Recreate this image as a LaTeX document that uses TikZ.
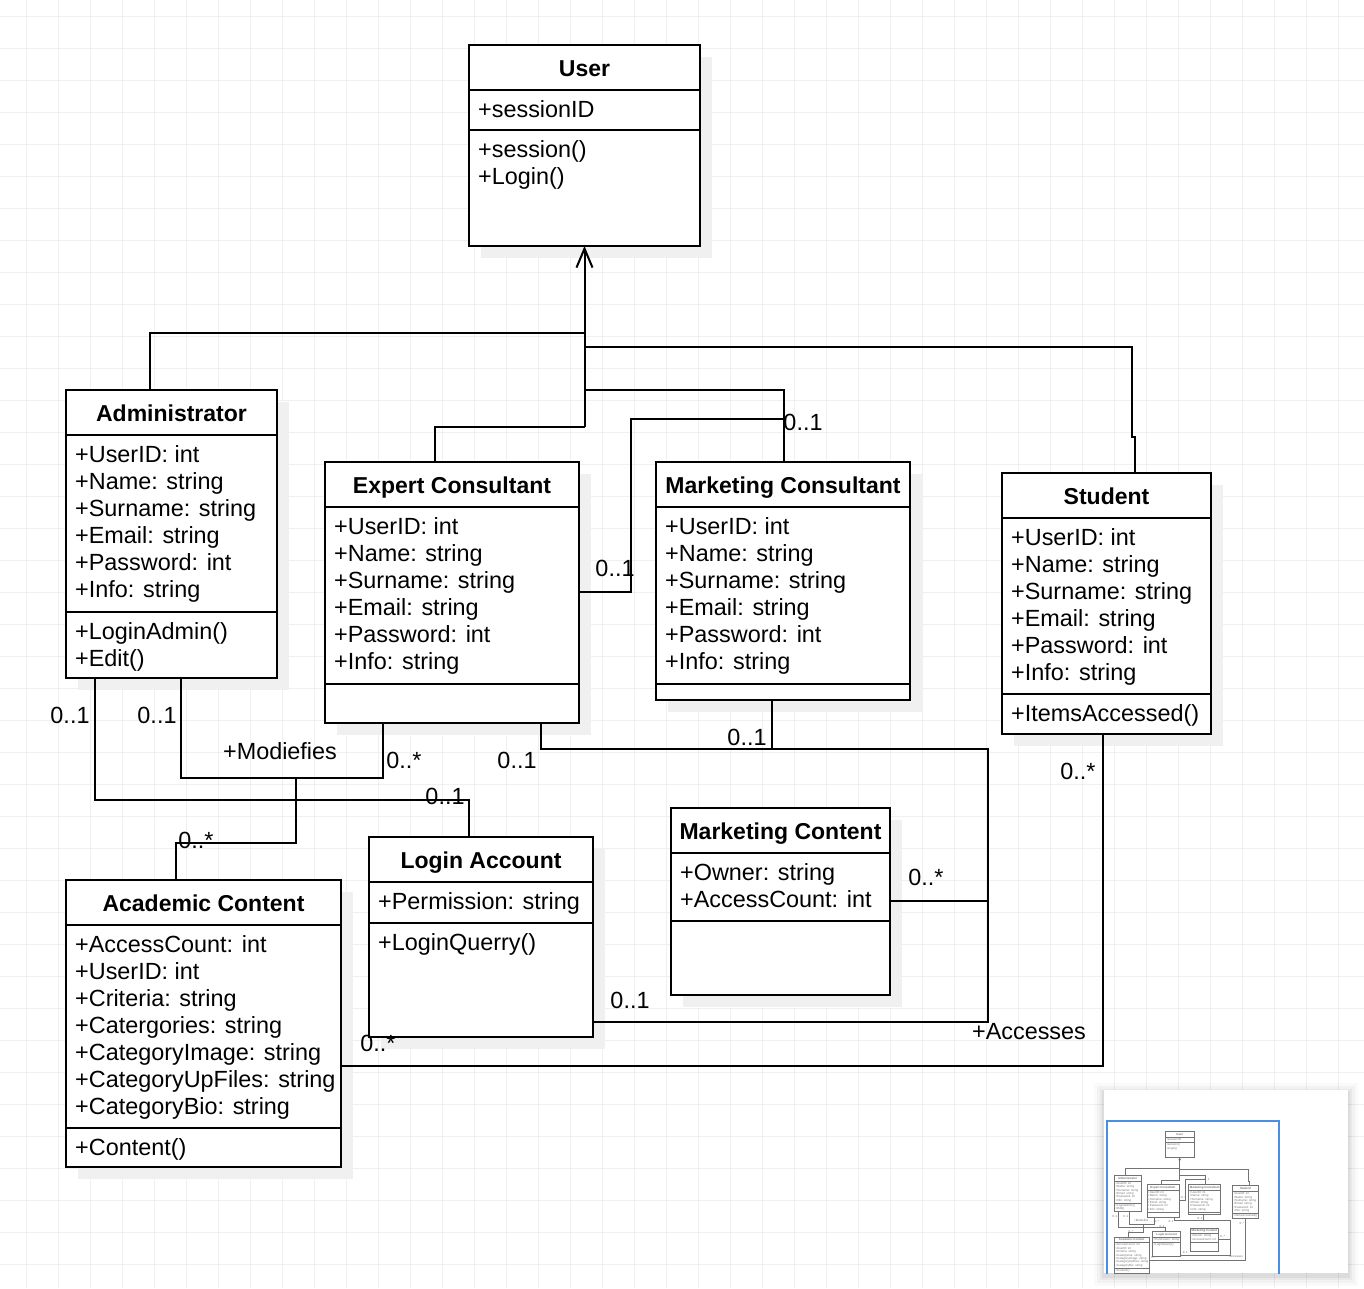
\documentclass[tikz,border=0pt]{standalone}
\usepackage{fontspec}
\setmainfont{Liberation Sans}
\usetikzlibrary{arrows.meta,calc}

\colorlet{fg}{black}
\colorlet{gridline}{black!6}
\colorlet{boxshadow}{black!6}
\definecolor{viewblue}{RGB}{74,144,226}
\def\lw{2pt}
\def\tipl{19pt}\def\tipw{16pt}
\newif\ifshadows \shadowstrue

\tikzset{
  classframe/.style={draw=fg, fill=white, line width=\lw, inner sep=0pt, outer sep=0pt, anchor=north west},
  sepline/.style={draw=fg, line width=\lw},
  conn/.style={draw=fg, line width=\lw},
  ctitle/.style={font=\fontsize{23}{27}\selectfont\bfseries, text=fg, anchor=base, inner sep=0pt},
  cline/.style={font=\fontsize{23.4}{27}\selectfont, text=fg, anchor=base west, inner sep=0pt},
  mult/.style={font=\fontsize{23.4}{27}\selectfont, text=fg, inner sep=0pt},
  gen/.style={-{Straight Barb[length=\tipl, width=\tipw]}},
}

% class box: name, left, top, width, height, title band, attribute band, title
\newcommand\umlclass[8]{%
  \edef\clsx{\the\numexpr#2+9\relax}%
  \edef\clsa{\the\numexpr#3+#6+27\relax}%
  \edef\clsm{\the\numexpr#3+#6+#7+27\relax}%
  \ifshadows\fill[boxshadow] (#2+12,#3+12) rectangle ++(#4,#5);\fi
  \node[classframe, minimum width=#4, minimum height=#5] (#1) at (#2,#3) {};
  \draw[sepline] (#2,#3+#6) -- ++(#4,0);
  \draw[sepline] (#2,#3+#6+#7) -- ++(#4,0);
  \node[ctitle] (#1-title) at (#2+#4/2,#3+#6/2+8.5) {#8};
}
\newcommand\umlattrs[2]{%
  \foreach \s [count=\i] in {#2} {\node[cline] (#1\i) at (\clsx,\clsa+27*\i-27) {\s};}}
\newcommand\umlmeths[2]{%
  \foreach \s [count=\i] in {#2} {\node[cline] (#1\i) at (\clsx,\clsm+27*\i-27) {\s};}}

\newcommand\umldiagram{%
  % classes
  \umlclass{user}{469}{45}{231}{201}{45}{40}{User}
  \umlattrs{user-a}{+sessionID}
  \umlmeths{user-m}{+session(),+Login()}

  \umlclass{adm}{66}{390}{211}{288}{45}{177}{Administrator}
  \umlattrs{adm-a}{+UserID: int,+Name: string,+Surname: string,+Email: string,+Password: int,+Info: string}
  \umlmeths{adm-m}{+LoginAdmin(),+Edit()}

  \umlclass{exp}{325}{462}{254}{261}{45}{177}{Expert Consultant}
  \umlattrs{exp-a}{+UserID: int,+Name: string,+Surname: string,+Email: string,+Password: int,+Info: string}

  \umlclass{mkc}{656}{462}{254}{238}{45}{177}{Marketing Consultant}
  \umlattrs{mkc-a}{+UserID: int,+Name: string,+Surname: string,+Email: string,+Password: int,+Info: string}

  \umlclass{stu}{1002}{473}{209}{261}{45}{176}{Student}
  \umlattrs{stu-a}{+UserID: int,+Name: string,+Surname: string,+Email: string,+Password: int,+Info: string}
  \umlmeths{stu-m}{+ItemsAccessed()}

  \umlclass{acad}{66}{880}{275}{287}{45}{203}{Academic Content}
  \umlattrs{acad-a}{+AccessCount: int,+UserID: int,+Criteria: string,+Catergories: string,+CategoryImage: string,+CategoryUpFiles: string,+CategoryBio: string}
  \umlmeths{acad-m}{+Content()}

  \umlclass{login}{369}{837}{224}{200}{45}{41}{Login Account}
  \umlattrs{login-a}{+Permission: string}
  \umlmeths{login-m}{+LoginQuerry()}

  \umlclass{mct}{671}{808}{219}{187}{45}{68}{Marketing Content}
  \umlattrs{mct-a}{+Owner: string,+AccessCount: int}

  % generalisation towards User
  \draw[conn] (adm.north -| 150,0) |- (user.south |- 0,333);
  \draw[conn] (exp.north -| 435,0) |- (user.south |- 0,427);
  \draw[conn] (mkc.north -| 784,0) |- (user.south |- 0,390);
  \draw[conn] (stu.north -| 1135,0) -- (1135,437) -- (1132,437) |- (user.south |- 0,347);
  \draw[conn,gen] (user.south |- 0,427) -- (user.south);

  % associations
  \draw[conn] (exp.east |- 0,592) -| (631,419) -- (784,419);
  \draw[conn] (exp.south -| 541,0) |- (988,749) |- (login.east |- 0,1022);
  \draw[conn] (mkc.south -| 772,0) -- (772,749);
  \draw[conn] (mct.east |- 0,901) -- (988,901);
  \draw[conn] (stu.south -| 1103,0) |- (acad.east |- 0,1066);
  \draw[conn] (adm.south -| 95,0) |- (469,800) -- (login.north -| 469,0);
  \draw[conn] (adm.south -| 181,0) |- (383,778) -- (exp.south -| 383,0);
  \draw[conn] (296,778) |- (176,843) -- (acad.north -| 176,0);

  % multiplicities and roles
  \node[mult] (m-mkc-top) at (803,422) {0..1};
  \node[mult] (m-exp-right) at (615,568) {0..1};
  \node[mult] (m-adm-l) at (70,715) {0..1};
  \node[mult] (m-adm-r) at (157,715) {0..1};
  \node[mult] (r-mod) at (280,751) {+Modiefies};
  \node[mult] (m-exp-b1) at (404,760) {0..*};
  \node[mult] (m-exp-b2) at (517,760) {0..1};
  \node[mult] (m-mkc-b) at (747,737) {0..1};
  \node[mult] (m-stu-b) at (1078,771) {0..*};
  \node[mult] (m-login-t) at (445,796) {0..1};
  \node[mult] (m-acad-t) at (196,840) {0..*};
  \node[mult] (m-mct) at (926,877) {0..*};
  \node[mult] (m-login-r) at (630,1000) {0..1};
  \node[mult] (r-acc) at (1029,1032) {+Accesses};
  \node[mult] (m-acad-r) at (378,1043) {0..*};
}

\begin{document}
\begin{tikzpicture}[x={(1pt,0)}, y={(0,-1pt)}]
  \useasboundingbox (0,0) rectangle (1364,1288);
  \fill[white] (0,0) rectangle (1364,1288);
  % background grid
  \foreach \gx in {26,58,...,1364} \draw[gridline, line width=1pt] (\gx,0) -- (\gx,1288);
  \foreach \gy in {16,48,...,1288} \draw[gridline, line width=1pt] (0,\gy) -- (1364,\gy);

  \umldiagram

  % overview panel
  \begin{scope}
    \foreach \d/\o in {10/0.02, 7/0.03, 4/0.04, 2/0.05}
      \fill[black, opacity=\o] (1104-\d,1090-\d+3) rectangle (1348+\d,1273+\d+3);
    \fill[white] (1104,1090) rectangle (1348,1273);
    \clip (1104,1090) rectangle (1348,1273);
    \begin{scope}[shift={(1106,1126)}, scale=0.126, transform shape]
      \colorlet{fg}{black!55}
      \def\lw{0.5pt}
      \def\tipl{2.5pt}\def\tipw{2pt}
      \shadowsfalse
      \umldiagram
    \end{scope}
    \draw[viewblue, line width=2.5pt] (1107,1121) rectangle (1279,1300);
  \end{scope}
\end{tikzpicture}
\end{document}
